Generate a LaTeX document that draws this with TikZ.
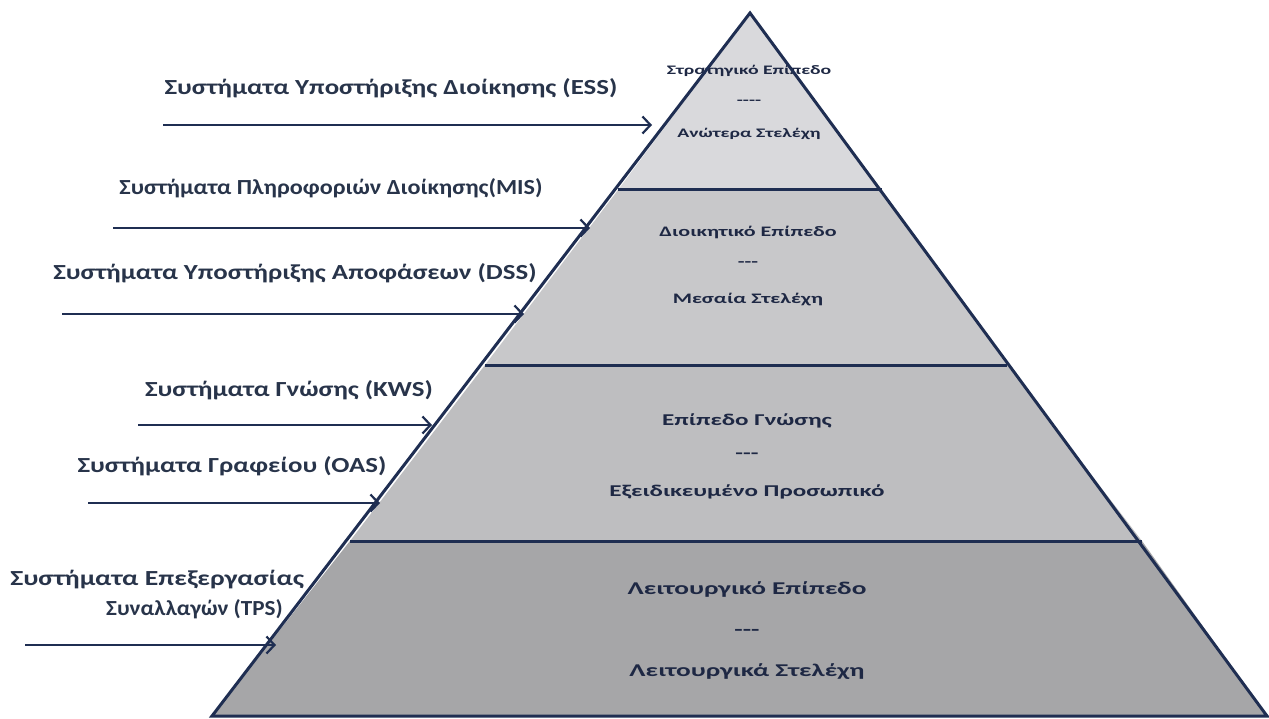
\documentclass[tikz,border=0pt]{standalone}
\usepackage{fontspec}
\setmainfont{Carlito}
\usetikzlibrary{arrows.meta}

\definecolor{edgeblue}{RGB}{31,46,82}
\definecolor{labelink}{RGB}{40,52,74}
\definecolor{tierink}{RGB}{30,40,68}
\definecolor{tierA}{RGB}{217,217,220}
\definecolor{tierB}{RGB}{200,200,202}
\definecolor{tierC}{RGB}{190,190,192}
\definecolor{tierD}{RGB}{166,166,168}

\tikzset{
  outline/.style={draw=edgeblue, line width=3pt, line join=miter},
  divider/.style={draw=edgeblue, line width=3pt},
  sysarrow/.style={draw=edgeblue, line width=2.6pt,
    -{Straight Barb[length=8pt,width=17pt,line width=2.2pt]}},
  syslabel/.style={text=labelink, font=\bfseries\fontsize{21.5}{25}\selectfont,
    inner sep=0pt, xscale=1.25, transform shape},
  tiertext/.style={text=tierink, inner sep=0pt, xscale=1.52, transform shape},
  topfont/.style={font=\bfseries\fontsize{13}{15}\selectfont},
  midfont/.style={font=\bfseries\fontsize{14.5}{17}\selectfont},
  knowfont/.style={font=\bfseries\fontsize{16.5}{20}\selectfont},
  opfont/.style={font=\bfseries\fontsize{18}{22}\selectfont},
}

\begin{document}
\begin{tikzpicture}[x=1pt, y=-1pt]
\useasboundingbox (0,0) rectangle (1269,719);

% corners of the pyramid and its tiers
\coordinate (apex) at (750,13);
\coordinate (l1) at (618,190); \coordinate (r1) at (882,190);
\coordinate (l2) at (485,365); \coordinate (r2) at (1007,365);
\coordinate (l3) at (350,541); \coordinate (r3) at (1142,541);
\coordinate (l4) at (212,716); \coordinate (r4) at (1267,716);

% tier fills
\fill[tierA] (apex) -- (r1) -- (l1) -- cycle;
\fill[tierB] (l1) -- (r1) -- (r2) -- (l2) -- cycle;
\fill[tierC] (l2) -- (r2) -- (r3) -- (l3) -- cycle;
\fill[tierD] (l3) -- (r3) -- (r4) -- (l4) -- cycle;

% tier texts
\node[tiertext, topfont] (t1a) at (749,71) {Στρατηγικό Επίπεδο};
\node[tiertext, topfont] (t1b) at (749,102) {-{}-{}-{}-};
\node[tiertext, topfont] (t1c) at (749,134) {Ανώτερα Στελέχη};

\node[tiertext, midfont] (t2a) at (748,232) {Διοικητικό Επίπεδο};
\node[tiertext, midfont] (t2b) at (748,264) {-{}-{}-};
\node[tiertext, midfont] (t2c) at (748,300) {Μεσαία Στελέχη};

\node[tiertext, knowfont] (t3a) at (747,421) {Επίπεδο Γνώσης};
\node[tiertext, knowfont] (t3b) at (747,456) {-{}-{}-};
\node[tiertext, knowfont] (t3c) at (747,492) {Εξειδικευμένο Προσωπικό};

\node[tiertext, opfont] (t4a) at (747,589) {Λειτουργικό Επίπεδο};
\node[tiertext, opfont] (t4b) at (747,632) {-{}-{}-};
\node[tiertext, opfont] (t4c) at (747,672) {Λειτουργικά Στελέχη};

% pyramid outline and tier dividers
\draw[outline] (apex) -- (l4) -- (r4) -- cycle;
\draw[divider] (l1) -- (r1);
\draw[divider] (l2) -- (r2);
\draw[divider] (l3) -- (r3);

% system labels
\node[syslabel] (ess) at (391,88) {Συστήματα Υποστήριξης Διοίκησης (ESS)};
\node[syslabel, xscale=0.9] (mis) at (331,188) {Συστήματα Πληροφοριών Διοίκησης(MIS)};
\node[syslabel] (dss) at (295,273) {Συστήματα Υποστήριξης Αποφάσεων (DSS)};
\node[syslabel] (kws) at (289,390) {Συστήματα Γνώσης (KWS)};
\node[syslabel] (oas) at (232,466) {Συστήματα Γραφείου (OAS)};
\node[syslabel, anchor=west, xscale=1.03] (tpsa) at (10,580) {Συστήματα Επεξεργασίας};
\node[syslabel, anchor=east, xscale=0.86] (tpsb) at (283,609) {Συναλλαγών (TPS)};

% arrow ends
\coordinate (essS) at (163,125); \coordinate (essE) at (652,125);
\coordinate (misS) at (113,228); \coordinate (misE) at (590,228);
\coordinate (dssS) at (62,314);  \coordinate (dssE) at (524,314);
\coordinate (kwsS) at (138,425); \coordinate (kwsE) at (432,425);
\coordinate (oasS) at (88,503);  \coordinate (oasE) at (380,503);
\coordinate (tpsS) at (25,645);  \coordinate (tpsE) at (276,645);

\draw[sysarrow] (essS) -- (essE);
\draw[sysarrow] (misS) -- (misE);
\draw[sysarrow] (dssS) -- (dssE);
\draw[sysarrow] (kwsS) -- (kwsE);
\draw[sysarrow] (oasS) -- (oasE);
\draw[sysarrow] (tpsS) -- (tpsE);
\end{tikzpicture}
\end{document}
